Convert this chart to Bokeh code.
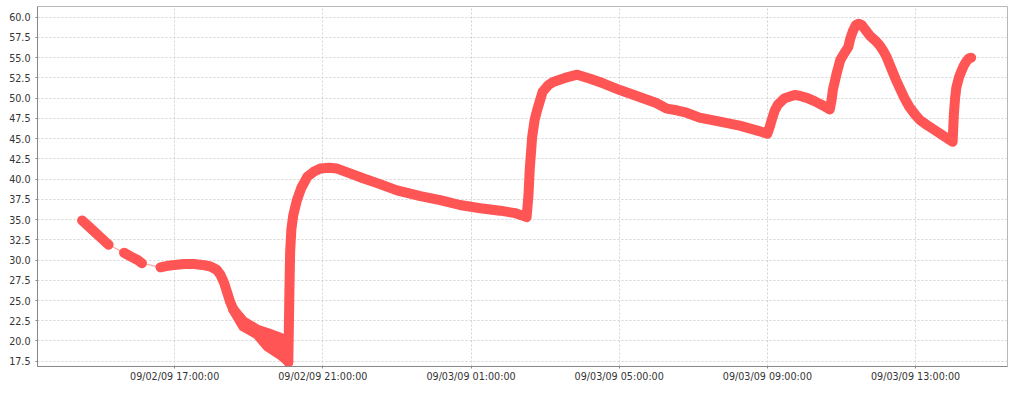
import pandas as pd
from bokeh.plotting import figure
from bokeh.models import FixedTicker, DatetimeTickFormatter, NumeralTickFormatter, Range1d
from bokeh.embed import file_html
from bokeh.resources import INLINE

# ---- data ----
times = [
    "2009-09-02 14:30", "2009-09-02 14:40", "2009-09-02 14:50", "2009-09-02 15:00", "2009-09-02 15:07", "2009-09-02 15:13",
    "2009-09-02 15:38", "2009-09-02 15:50", "2009-09-02 16:00", "2009-09-02 16:07",
    "2009-09-02 16:37", "2009-09-02 16:50", "2009-09-02 17:00", "2009-09-02 17:15", "2009-09-02 17:31", "2009-09-02 17:45",
    "2009-09-02 17:58", "2009-09-02 18:08", "2009-09-02 18:14", "2009-09-02 18:20", "2009-09-02 18:25", "2009-09-02 18:30",
    "2009-09-02 18:35", "2009-09-02 18:40", "2009-09-02 18:51", "2009-09-02 19:02", "2009-09-02 19:14", "2009-09-02 19:30",
    "2009-09-02 19:40", "2009-09-02 19:51", "2009-09-02 20:02", "2009-09-02 20:04",
    "2009-09-02 20:05", "2009-09-02 20:06", "2009-09-02 20:07", "2009-09-02 20:09", "2009-09-02 20:12",
    "2009-09-02 20:18", "2009-09-02 20:25", "2009-09-02 20:35", "2009-09-02 20:45", "2009-09-02 20:56", "2009-09-02 21:10",
    "2009-09-02 21:23", "2009-09-02 21:44", "2009-09-02 22:05", "2009-09-02 22:28", "2009-09-02 23:00", "2009-09-02 23:38",
    "2009-09-03 00:10", "2009-09-03 00:42", "2009-09-03 01:15", "2009-09-03 01:47", "2009-09-03 02:11", "2009-09-03 02:30",
    "2009-09-03 02:33", "2009-09-03 02:35", "2009-09-03 02:39", "2009-09-03 02:43", "2009-09-03 02:47", "2009-09-03 02:56",
    "2009-09-03 03:05", "2009-09-03 03:13", "2009-09-03 03:32", "2009-09-03 03:52", "2009-09-03 04:13", "2009-09-03 04:35",
    "2009-09-03 05:01", "2009-09-03 05:34", "2009-09-03 06:00", "2009-09-03 06:17", "2009-09-03 06:33", "2009-09-03 06:49",
    "2009-09-03 07:10", "2009-09-03 07:43", "2009-09-03 08:15", "2009-09-03 08:48", "2009-09-03 09:00", "2009-09-03 09:04",
    "2009-09-03 09:07", "2009-09-03 09:12", "2009-09-03 09:17", "2009-09-03 09:28", "2009-09-03 09:44", "2009-09-03 09:52",
    "2009-09-03 10:05", "2009-09-03 10:17", "2009-09-03 10:30", "2009-09-03 10:41", "2009-09-03 10:44", "2009-09-03 10:46",
    "2009-09-03 10:52", "2009-09-03 10:58", "2009-09-03 11:05", "2009-09-03 11:11", "2009-09-03 11:14", "2009-09-03 11:18",
    "2009-09-03 11:23", "2009-09-03 11:28", "2009-09-03 11:33", "2009-09-03 11:38", "2009-09-03 11:46", "2009-09-03 11:55",
    "2009-09-03 12:02", "2009-09-03 12:08", "2009-09-03 12:13", "2009-09-03 12:21", "2009-09-03 12:28", "2009-09-03 12:34",
    "2009-09-03 12:42", "2009-09-03 12:50", "2009-09-03 13:00", "2009-09-03 13:07", "2009-09-03 13:18", "2009-09-03 13:28",
    "2009-09-03 13:36", "2009-09-03 13:44", "2009-09-03 13:52", "2009-09-03 14:00", "2009-09-03 14:02", "2009-09-03 14:04",
    "2009-09-03 14:06", "2009-09-03 14:10", "2009-09-03 14:14", "2009-09-03 14:18", "2009-09-03 14:22", "2009-09-03 14:26",
    "2009-09-03 14:30",
]
temps = [
    34.9, 34.2, 33.5, 32.8, 32.3, 31.9,
    30.9, 30.4, 30.0, 29.6,
    29.1, 29.3, 29.4, 29.5, 29.5, 29.4,
    29.2, 28.8, 28.2, 27.2, 26.0, 24.8,
    23.9, 23.3, 22.1, 21.6, 21.1, 20.2,
    19.8, 19.35, 18.8, 17.4,
    22.0, 27.0, 31.0, 33.8, 35.5,
    37.4, 38.9, 40.3, 40.9, 41.3, 41.4,
    41.3, 40.7, 40.1, 39.5, 38.6, 37.9,
    37.4, 36.8, 36.4, 36.1, 35.8, 35.3,
    38.0, 41.1, 45.2, 47.3, 48.5, 50.8,
    51.6, 52.0, 52.5, 52.9, 52.4, 51.8,
    51.0, 50.1, 49.4, 48.7, 48.5, 48.2,
    47.6, 47.1, 46.6, 45.9, 45.6, 46.5,
    47.3, 48.5, 49.2, 50.0, 50.4, 50.3,
    50.0, 49.6, 49.1, 48.6, 49.8, 51.0,
    53.0, 54.7, 55.6, 56.3, 57.3, 58.2,
    59.0, 59.2, 59.0, 58.5, 57.7, 57.1,
    56.5, 55.8, 55.1, 53.6, 52.3, 51.3,
    50.0, 48.9, 47.9, 47.3, 46.7, 46.2,
    45.8, 45.4, 45.0, 44.6, 48.0, 50.0,
    51.3, 52.5, 53.3, 54.0, 54.5, 54.9,
    55.0,
]
# which continuous run of samples each point belongs to (gaps are bridged by a thin line)
segments = [0] * 6 + [1] * 4 + [2] * (len(times) - 10)

# scatter of the noisy readings before the jump (lowest / highest reading per time)
noise_times = ["2009-09-02 18:35", "2009-09-02 18:51", "2009-09-02 19:14", "2009-09-02 19:30",
               "2009-09-02 19:51", "2009-09-02 20:02", "2009-09-02 20:04"]
noise_low = [23.9, 21.8, 20.8, 19.35, 18.3, 17.6, 17.4]
noise_high = [23.9, 22.45, 21.4, 21.0, 20.4, 20.0, 20.0]

y_ticks = [17.5, 20.0, 22.5, 25.0, 27.5, 30.0, 32.5, 35.0, 37.5, 40.0, 42.5, 45.0, 47.5, 50.0, 52.5, 55.0, 57.5, 60.0]
x_ticks = ["2009-09-02 17:00", "2009-09-02 21:00", "2009-09-03 01:00",
           "2009-09-03 05:00", "2009-09-03 09:00", "2009-09-03 13:00"]
x_start, x_end = "2009-09-02 13:17:49", "2009-09-03 15:28:53"
y_start, y_end = 16.85, 61.32

RED = "#ff5555"

# ---- build ----
t = pd.to_datetime(times)
df = pd.DataFrame({"t": t, "v": temps, "seg": segments})
xs = [g["t"].tolist() for _, g in df.groupby("seg")]
ys = [g["v"].tolist() for _, g in df.groupby("seg")]
nt = pd.to_datetime(noise_times)

p = figure(width=1008, height=384, x_axis_type="datetime", output_backend="svg",
           toolbar_location=None,
           x_range=Range1d(pd.Timestamp(x_start), pd.Timestamp(x_end)),
           y_range=Range1d(y_start, y_end),
           min_border_left=37, min_border_right=1, min_border_top=6, min_border_bottom=17)
p.background_fill_color = "white"
p.border_fill_color = "white"
p.outline_line_color = "#b8b8b8"
p.outline_line_width = 1

# thin connecting line through all samples
p.line(df["t"], df["v"], line_color=RED, line_alpha=0.55, line_width=1.2)
# noisy band
p.varea(x=nt, y1=noise_low, y2=noise_high, fill_color=RED)
p.line(nt, noise_low, line_color=RED, line_width=10, line_join="round", line_cap="round")
p.line(nt, noise_high, line_color=RED, line_width=10, line_join="round", line_cap="round")
# thick sample trace
p.multi_line(xs, ys, line_color=RED, line_width=10, line_join="round", line_cap="round")

tick_ms = [pd.Timestamp(s).value // 10**6 for s in x_ticks]
p.xaxis.ticker = FixedTicker(ticks=tick_ms)
fmt = "%m/%d/%y %H:%M:%S"
p.xaxis.formatter = DatetimeTickFormatter(milliseconds=fmt, seconds=fmt, minsec=fmt, minutes=fmt,
                                          hourmin=fmt, hours=fmt, days=fmt, months=fmt, years=fmt)
p.yaxis.ticker = FixedTicker(ticks=y_ticks)
p.yaxis.formatter = NumeralTickFormatter(format="0.0")

for ax in (p.xaxis[0], p.yaxis[0]):
    ax.axis_line_color = "#888888"
    ax.major_tick_line_color = "#888888"
    ax.major_tick_out = 2
    ax.major_tick_in = 0
    ax.minor_tick_line_color = None
    ax.major_label_text_font = "DejaVu Sans"
    ax.major_label_text_font_size = "9.6px"
    ax.major_label_text_color = "#333333"
p.xaxis.major_label_standoff = 2
p.yaxis.major_label_standoff = 5

for g in (p.xgrid[0], p.ygrid[0]):
    g.grid_line_color = "#d4d4d4"
    g.grid_line_dash = "2 2"
    g.grid_line_width = 1

open("out.html", "w").write(file_html(p, INLINE))
